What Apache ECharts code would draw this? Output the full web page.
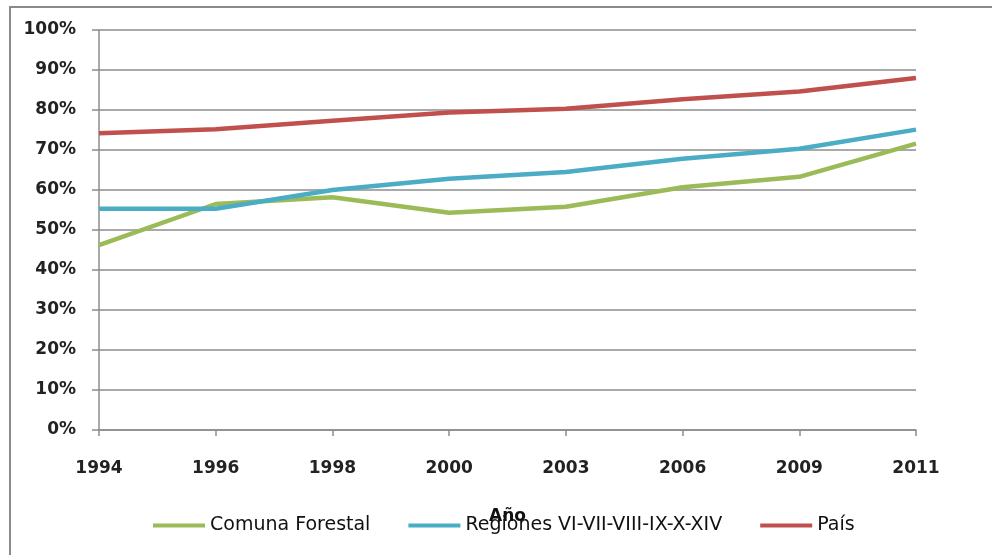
<!DOCTYPE html>
<html>
<head>
<meta charset="utf-8">
<script src="https://cdn.jsdelivr.net/npm/echarts@6/dist/echarts.min.js"></script>
<style>
  html, body { margin: 0; padding: 0; background: #fff; }
  #chart { width: 992px; height: 555px; }
</style>
</head>
<body>
<div id="chart"></div>
<script>
// años y porcentajes
var years = ["1994", "1996", "1998", "2000", "2003", "2006", "2009", "2011"];
var comunaForestal = [46.2, 56.5, 58.2, 54.3, 55.8, 60.7, 63.3, 71.6];
var regiones = [55.3, 55.3, 60.0, 62.8, 64.5, 67.8, 70.3, 75.1];
var pais = [74.2, 75.2, 77.3, 79.4, 80.3, 82.7, 84.6, 88.0];

var seriesNames = ["Comuna Forestal", "Regiones VI-VII-VIII-IX-X-XIV", "País"];
var colors = ["#9BBB59", "#4BACC6", "#C0504D"];

var chartDom = document.getElementById("chart");
var chart = echarts.init(chartDom);

function lineSeries(name, data, color) {
  return {
    name: name,
    type: "line",
    data: data,
    showSymbol: false,
    symbol: "none",
    lineStyle: { width: 4.5, color: color },
    itemStyle: { color: color },
    emphasis: { disabled: true }
  };
}

var option = {
  animation: false,
  textStyle: { fontFamily: "DejaVu Sans" },
  grid: { left: 99, right: 76, top: 30, bottom: 125 },
  graphic: [
    {
      type: "rect",
      shape: { x: 10, y: 7, width: 1100, height: 700 },
      style: { fill: "none", stroke: "#8a8a8a", lineWidth: 2 },
      silent: true
    }
  ],
  legend: {
    left: 148,
    top: 511,
    itemWidth: 52,
    itemHeight: 4,
    itemGap: 38,
    icon: "rect",
    textStyle: { fontSize: 19, color: "#111" },
    data: seriesNames
  },
  xAxis: {
    type: "category",
    data: years,
    boundaryGap: false,
    name: "Año",
    nameLocation: "middle",
    nameGap: 78,
    nameTextStyle: { fontSize: 17, fontWeight: "bold", color: "#111" },
    axisLine: { lineStyle: { color: "#8c8c8c", width: 1.5 } },
    axisTick: { alignWithLabel: true, length: 6, lineStyle: { color: "#8c8c8c", width: 1.5 } },
    axisLabel: { fontSize: 17, fontWeight: "bold", color: "#222", margin: 30 },
    splitLine: { show: false }
  },
  yAxis: {
    type: "value",
    min: 0,
    max: 100,
    interval: 10,
    axisLine: { show: true, lineStyle: { color: "#8c8c8c", width: 1.5 } },
    axisTick: { show: true, length: 7, lineStyle: { color: "#8c8c8c", width: 1.5 } },
    axisLabel: { fontSize: 17, fontWeight: "bold", color: "#222", margin: 23, formatter: "{value}%" },
    splitLine: { lineStyle: { color: "#8c8c8c", width: 1.5 } }
  },
  series: [
    lineSeries(seriesNames[0], comunaForestal, colors[0]),
    lineSeries(seriesNames[1], regiones, colors[1]),
    lineSeries(seriesNames[2], pais, colors[2])
  ]
};

chart.setOption(option);
</script>
</body>
</html>
